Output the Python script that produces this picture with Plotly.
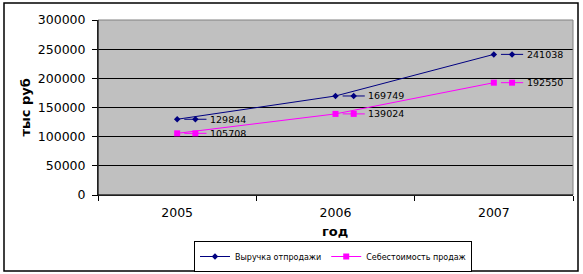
import plotly.graph_objects as go

years = ["2005", "2006", "2007"]
revenue = [129844, 169749, 241038]
cost = [105708, 139024, 192550]
series_names = ["Выручка отпродажи", "Себестоимость продаж"]
colors = ["#000080", "#FF00FF"]
symbols = ["diamond", "square"]
y_ticks = [0, 50000, 100000, 150000, 200000, 250000, 300000]

W, H = 583, 274
L, R, T, B = 98, 10, 20, 79
pw, ph = W - L - R, H - T - B

def px_x(p):
    return (p - L) / pw

def px_y(p):
    return (H - B - p) / ph

fig = go.Figure()
xs = list(range(len(years)))

for vals, name, col, sym in zip([revenue, cost], series_names, colors, symbols):
    msize = 5 if sym == "diamond" else 6
    fig.add_trace(go.Scatter(
        x=xs, y=vals, mode="lines+markers", name=name,
        line=dict(color=col, width=1),
        marker=dict(symbol=sym, size=msize, color=col),
    ))
    # legend-key style label markers
    kx, ky = [], []
    for i, v in zip(xs, vals):
        kx += [i + 0.045, i + 0.185, None]
        ky += [v, v, None]
    fig.add_trace(go.Scatter(x=kx, y=ky, mode="lines", line=dict(color=col, width=1),
                             showlegend=False, hoverinfo="skip"))
    fig.add_trace(go.Scatter(x=[i + 0.115 for i in xs], y=vals, mode="markers",
                             marker=dict(symbol=sym, size=msize, color=col),
                             showlegend=False, hoverinfo="skip"))
    for i, v in zip(xs, vals):
        fig.add_annotation(x=i + 0.195, y=v, xref="x", yref="y", text=str(v),
                           showarrow=False, xanchor="left", yanchor="middle",
                           font=dict(family="DejaVu Sans", size=9.5, color="black"))

fig.update_layout(
    width=W, height=H,
    margin=dict(l=L, r=R, t=T, b=B, autoexpand=False),
    paper_bgcolor="white", plot_bgcolor="#C0C0C0",
    font=dict(family="DejaVu Sans", color="black"),
    showlegend=True,
    legend=dict(orientation="h", x=333 / W, y=1 - 272 / H, xref="container", yref="container",
                xanchor="center", yanchor="bottom",
                bordercolor="black", borderwidth=1, bgcolor="white",
                font=dict(family="DejaVu Sans", size=8), itemwidth=30,
                tracegroupgap=0),
)

fig.update_xaxes(
    range=[-0.5, 2.5], tickvals=xs, ticktext=years, ticks="", automargin=False,
    showgrid=False, zeroline=False, showline=True, linecolor="black", linewidth=1,
    tickfont=dict(size=12.5), ticklabelstandoff=6,
    minor=dict(tickvals=[-0.5, 0.5, 1.5, 2.5], ticks="outside", ticklen=5,
               tickcolor="black", showgrid=False),
)
fig.update_yaxes(
    range=[0, 300000], tickvals=y_ticks, ticktext=[str(v) for v in y_ticks],
    ticks="outside", ticklen=5, tickcolor="black", automargin=False,
    showgrid=True, gridcolor="black", gridwidth=1, zeroline=False,
    showline=True, linecolor="black", linewidth=1,
    tickfont=dict(size=12.5), ticklabelstandoff=4,
)

# plot area border (gray right/top) and outer chart frame
fig.add_shape(type="rect", xref="paper", yref="paper", x0=0, x1=1, y0=0, y1=1,
              line=dict(color="#808080", width=1), layer="above")
fig.add_shape(type="line", xref="paper", yref="paper", x0=0, x1=0, y0=0, y1=1,
              line=dict(color="black", width=1), layer="above")
fig.add_shape(type="line", xref="paper", yref="paper", x0=0, x1=1, y0=0, y1=0,
              line=dict(color="black", width=1), layer="above")
fig.add_shape(type="rect", xref="paper", yref="paper",
              x0=px_x(4), x1=px_x(578), y0=px_y(271), y1=px_y(3),
              line=dict(color="black", width=1.5))

fig.add_annotation(x=px_x(25), y=0.5, xref="paper", yref="paper", text="<b>тыс руб</b>",
                   textangle=-90, showarrow=False, xanchor="center", yanchor="middle",
                   font=dict(size=13))
fig.add_annotation(x=px_x(335), y=px_y(231), xref="paper", yref="paper", text="<b>год</b>",
                   showarrow=False, xanchor="center", yanchor="middle",
                   font=dict(size=13))

fig.write_html("out.html")
